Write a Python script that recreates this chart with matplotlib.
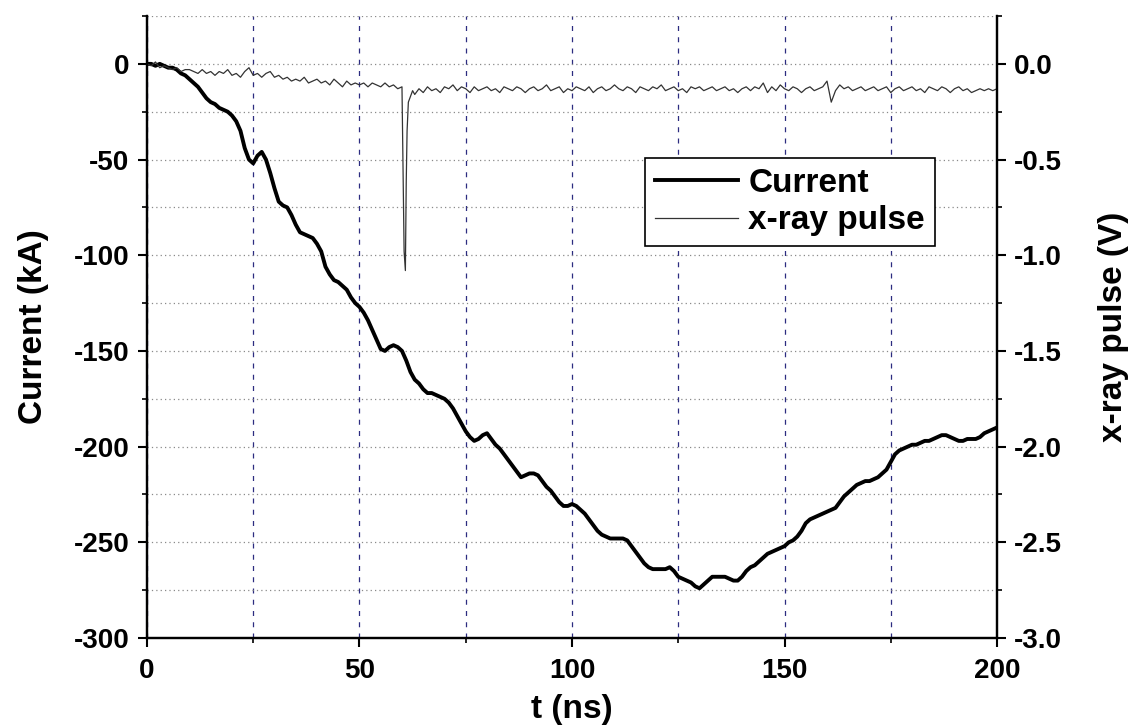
import numpy as np
import matplotlib.pyplot as plt
from matplotlib.ticker import MultipleLocator

# ==========================================
# data
# ==========================================
t_current = np.arange(0, 201, 1)
current_kA = [
    0, 0, -1, 0, -1, -2, -2, -3, -5, -6,
    -8, -10, -12, -15, -18, -20, -21, -23, -24, -25,
    -27, -30, -35, -44, -50, -52, -48, -46, -50, -57,
    -65, -72, -74, -75, -79, -84, -88, -89, -90, -91,
    -94, -98, -106, -110, -113, -114, -116, -118, -122, -125,
    -127, -130, -134, -139, -144, -149, -150, -148, -147, -148,
    -150, -155, -161, -165, -167, -170, -172, -172, -173, -174,
    -175, -177, -180, -184, -188, -192, -195, -197, -196, -194,
    -193, -196, -199, -201, -204, -207, -210, -213, -216, -215,
    -214, -214, -215, -218, -221, -223, -226, -229, -231, -231,
    -230, -231, -233, -235, -238, -241, -244, -246, -247, -248,
    -248, -248, -248, -249, -252, -255, -258, -261, -263, -264,
    -264, -264, -264, -263, -265, -268, -269, -270, -271, -273,
    -274, -272, -270, -268, -268, -268, -268, -269, -270, -270,
    -268, -265, -263, -262, -260, -258, -256, -255, -254, -253,
    -252, -250, -249, -247, -244, -240, -238, -237, -236, -235,
    -234, -233, -232, -229, -226, -224, -222, -220, -219, -218,
    -218, -217, -216, -214, -212, -208, -204, -202, -201, -200,
    -199, -199, -198, -197, -197, -196, -195, -194, -194, -195,
    -196, -197, -197, -196, -196, -196, -195, -193, -192, -191,
    -190,
]

# x-ray baseline before the pulse, the pulse itself, then baseline after
t_xray_pre = np.arange(0, 61, 1)
xray_pre = [
    0.00, -0.01, 0.01, -0.02, -0.01, -0.02, -0.03, -0.02, -0.04, -0.03,
    -0.03, -0.04, -0.05, -0.03, -0.05, -0.04, -0.06, -0.04, -0.05, -0.03,
    -0.06, -0.05, -0.07, -0.04, -0.02, -0.06, -0.05, -0.07, -0.05, -0.04,
    -0.07, -0.06, -0.08, -0.07, -0.09, -0.08, -0.09, -0.07, -0.10, -0.09,
    -0.08, -0.10, -0.09, -0.11, -0.08, -0.10, -0.12, -0.09, -0.11, -0.10,
    -0.11, -0.10, -0.12, -0.10, -0.11, -0.12, -0.10, -0.12, -0.11, -0.13,
    -0.12,
]
t_xray_pulse = [60.3, 60.5, 60.8, 61.0, 61.2, 61.5, 62.0, 62.5]
xray_pulse = [-0.65, -0.98, -1.08, -0.62, -0.35, -0.20, -0.17, -0.14]
t_xray_post = np.arange(63, 201, 1)
xray_post = [
    -0.16, -0.13, -0.15, -0.12, -0.14, -0.13, -0.15, -0.12,
    -0.13, -0.11, -0.14, -0.12, -0.13, -0.15, -0.12, -0.14, -0.13, -0.12,
    -0.14, -0.13, -0.15, -0.12, -0.13, -0.14, -0.12, -0.13, -0.15, -0.13,
    -0.12, -0.14, -0.13, -0.11, -0.14, -0.13, -0.12, -0.15, -0.13, -0.14,
    -0.12, -0.13, -0.14, -0.12, -0.15, -0.13, -0.12, -0.14, -0.13, -0.11,
    -0.13, -0.14, -0.12, -0.13, -0.15, -0.12, -0.13, -0.14, -0.12, -0.13,
    -0.11, -0.14, -0.13, -0.12, -0.14, -0.13, -0.15, -0.12, -0.13, -0.12,
    -0.14, -0.13, -0.12, -0.14, -0.13, -0.12, -0.14, -0.13, -0.15, -0.13,
    -0.12, -0.14, -0.12, -0.13, -0.10, -0.15, -0.12, -0.14, -0.11, -0.13,
    -0.14, -0.12, -0.13, -0.15, -0.13, -0.12, -0.14, -0.13, -0.12, -0.09,
    -0.20, -0.14, -0.11, -0.13, -0.12, -0.14, -0.13, -0.12, -0.14, -0.13,
    -0.12, -0.14, -0.13, -0.12, -0.15, -0.13, -0.12, -0.14, -0.13, -0.12,
    -0.14, -0.13, -0.15, -0.12, -0.13, -0.14, -0.12, -0.13, -0.15, -0.13,
    -0.12, -0.14, -0.13, -0.15, -0.14, -0.13, -0.14, -0.13, -0.14, -0.13,
]

t_xray = np.concatenate([t_xray_pre, t_xray_pulse, t_xray_post])
xray_V = np.concatenate([xray_pre, xray_pulse, xray_post])

# ==========================================
# figure
# ==========================================
plt.rcParams['font.family'] = ['Liberation Sans', 'DejaVu Sans']
plt.rcParams['axes.unicode_minus'] = False

fig = plt.figure(figsize=(11.34, 7.28), dpi=100)
ax = fig.add_axes([0.1296, 0.1236, 0.7496, 0.8544])
ax2 = ax.twinx()

ln1, = ax.plot(t_current, current_kA, color='black', lw=2.8, label='Current')
ln2, = ax2.plot(t_xray, xray_V, color='#333333', lw=0.9, label='x-ray pulse')

ax.set_xlim(0, 200)
ax.set_ylim(-300, 25)
ax2.set_ylim(-3.0, 0.25)

ax.xaxis.set_major_locator(MultipleLocator(50))
ax.xaxis.set_minor_locator(MultipleLocator(25))
ax.yaxis.set_major_locator(MultipleLocator(50))
ax.yaxis.set_minor_locator(MultipleLocator(25))
ax2.yaxis.set_major_locator(MultipleLocator(0.5))
ax2.yaxis.set_minor_locator(MultipleLocator(0.25))
ax2.yaxis.set_major_formatter(plt.FormatStrFormatter('%.1f'))

# grid: dotted grey horizontals, dashed navy verticals
ax.grid(which='both', axis='y', linestyle=(0, (1, 2.5)), color='#8a8a8a', lw=0.9)
ax.grid(which='both', axis='x', linestyle=(0, (4, 5)), color='#2c2c80', lw=0.9)
ax.set_axisbelow(True)

for a in (ax, ax2):
    a.spines['top'].set_visible(False)
    for s in ('left', 'right', 'bottom'):
        a.spines[s].set_linewidth(1.6)
    a.tick_params(which='major', direction='out', length=6.5, width=1.5,
                  labelsize=20, pad=6)
    a.tick_params(which='minor', direction='out', length=3.6, width=1.2)
    for lab in a.get_xticklabels() + a.get_yticklabels():
        lab.set_fontweight('bold')
ax.tick_params(axis='x', which='major', pad=8)

ax.set_xlabel('t (ns)', fontsize=24, fontweight='bold', labelpad=7)
ax.set_ylabel('Current (kA)', fontsize=24, fontweight='bold', labelpad=18)
ax2.set_ylabel('x-ray pulse (V)', fontsize=24, fontweight='bold', labelpad=26)

leg = ax2.legend(handles=[ln1, ln2], loc='upper left', bbox_to_anchor=(0.586, 0.772),
                 borderaxespad=0, fancybox=False, edgecolor='black', framealpha=1,
                 handlelength=2.5, handletextpad=0.3,
                 prop={'weight': 'bold', 'size': 24}, borderpad=0.3, labelspacing=0.2)
leg.get_frame().set_linewidth(1.2)

fig.savefig('out.png', dpi=100)
